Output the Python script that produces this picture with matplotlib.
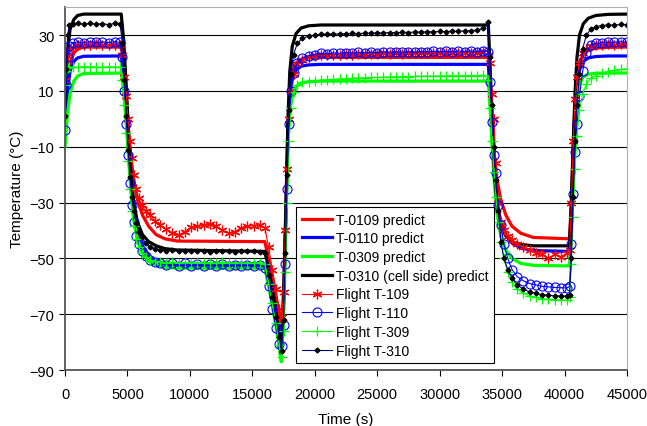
import matplotlib
matplotlib.use("Agg")
import matplotlib.pyplot as plt

plt.rcParams['font.family'] = ['Liberation Sans', 'DejaVu Sans']

# predicted curves (shared time base)
t_pred = [0, 200, 400, 700, 1000, 1500, 4500, 4700, 4900, 5100, 5300, 5500, 5800, 6200, 6700, 7300, 8000, 9000,
          16000, 16400, 16800, 17100, 17300, 17500, 17700, 17850, 18000, 18200, 18500, 18900, 19500, 20500,
          33900, 34050, 34200, 34400, 34600, 34900, 35300, 35800, 36500, 37500,
          40400, 40550, 40700, 40850, 41000, 41200, 41500, 41900, 42500, 43500, 45000]
p0109 = [2, 14, 20, 23.5, 25, 25.7, 25.7, 20, 8, -5, -15, -22, -29, -34.5, -38.5, -41.5, -43, -43.8,
         -44, -52, -62, -70, -76, -62, -30, -5, 10, 17, 20, 21.3, 21.8, 22,
         22, 12, -2, -14, -22, -29, -34.5, -38.5, -41, -42.5,
         -43, -30, -10, 5, 14, 20, 23, 24.5, 25.3, 25.6, 25.7]
p0110 = [-4, 10, 17, 20.5, 21.8, 22.4, 22.5, 16, 3, -10, -23, -32, -40, -45.5, -49, -51, -52, -52.5,
         -52.5, -60, -69, -77, -83, -68, -33, -5, 8, 14, 17.5, 18.8, 19.3, 19.5,
         19.5, 8, -6, -20, -30, -37, -41.5, -44.5, -46.3, -47.2,
         -47.5, -33, -12, 4, 12, 17.5, 20.5, 21.8, 22.3, 22.5, 22.5]
p0309 = [-10, 2, 9, 13.5, 15.3, 16.2, 16.4, 10, -2, -15, -27, -36, -43, -48, -51, -52.5, -53.2, -53.5,
         -53.5, -62, -72, -80, -87, -72, -36, -8, 3, 8.5, 11.5, 12.8, 13.3, 13.5,
         13.5, 3, -10, -24, -34, -42, -47, -50, -51.8, -52.5,
         -52.7, -38, -16, 0, 8, 12.5, 15, 16, 16.3, 16.4, 16.4]
p0310 = [5, 24, 32, 35.5, 37, 37.5, 37.5, 28, 12, -6, -20, -30, -37, -41.5, -44, -45.5, -46.5, -47,
         -47.5, -56, -66, -76, -84, -66, -30, 0, 17, 26, 30.5, 32.5, 33.3, 33.6,
         33.6, 18, 0, -20, -31, -38, -42, -44, -45, -45.5,
         -45.5, -30, -8, 10, 22, 30, 34, 36, 37, 37.4, 37.5]

# flight measurements (shared time base)
t_flight = [0, 100, 200, 350, 600, 1000, 1500, 2000, 2500, 3000, 3500, 4000, 4400,
            4600, 4750, 4900, 5050, 5200, 5350, 5500, 5700, 5900, 6150, 6450, 6800, 7200,
            7600, 8100, 8600, 9100, 9600, 10100, 10600, 11100, 11600, 12100, 12600, 13100, 13600, 14100, 14600, 15100, 15600,
            16000, 16300, 16600, 16900, 17150, 17350, 17500, 17650, 17800, 17950, 18100, 18300, 18600, 19000,
            19500, 20000, 20500, 21000, 21500, 22000, 22500, 23000, 23500, 24000, 24500, 25000, 25500, 26000, 26500,
            27000, 27500, 28000, 28500, 29000, 29500, 30000, 30500, 31000, 31500, 32000, 32500, 33000, 33500,
            33900, 34050, 34200, 34350, 34500, 34700, 34900, 35150, 35450, 35800, 36200,
            36700, 37200, 37700, 38200, 38700, 39200, 39700, 40200,
            40400, 40550, 40700, 40850, 41000, 41200, 41450, 41750, 42100,
            42500, 43000, 43500, 44000, 44500, 45000]
f109 = [14, 19, 22.5, 24.5, 25.8, 26.3, 26.5, 26.4, 26.7, 26.5, 26.6, 26.4, 26.6,
        23, 15, 8, 0, -8, -14, -20, -25, -28.5, -31, -33, -34.5, -36.5,
        -38, -39.5, -41, -41.5, -40.5, -38.8, -38.5, -38.2, -37.8, -38.5, -40, -41, -40.5, -39, -38.5, -38.3, -38,
        -39, -46, -54, -61, -68, -71, -62, -40, -18, 0, 10, 16, 19.5, 21.2,
        22, 22.4, 22.7, 22.8, 23, 22.9, 23.1, 23, 23.2, 23.1, 23.3, 23.2, 23.4, 23.3, 23.4,
        23.3, 23.5, 23.4, 23.5, 23.4, 23.6, 23.5, 23.6, 23.5, 23.7, 23.6, 23.7, 23.6, 23.8,
        23, 20, 9, 0, -16, -30, -37, -40, -42, -43.5, -45,
        -46, -47, -48, -48.5, -50, -48.5, -49.5, -48,
        -47, -30, -8, 7, 15, 20, 23.5, 25, 26,
        26.3, 26.5, 26.7, 26.6, 26.8, 26.7]
f110 = [-4, 12, 22, 26, 27.2, 27.5, 27.3, 27.6, 27.4, 27.5, 27.3, 27.6, 27.4,
        22, 10, -2, -13, -23, -31, -37, -42, -45, -47.5, -49.3, -50.5, -51.2,
        -51.8, -52.3, -51.5, -52.6, -51.8, -52.8, -52, -52.7, -51.9, -52.8, -52.1, -52.9, -52.2, -52.8, -52.3, -52.9, -52.3,
        -53.5, -60, -68, -75, -80.5, -81.5, -74, -52, -25, -2, 10, 16.5, 20, 21.8,
        22.6, 23, 23.4, 23.2, 23.6, 23.4, 23.7, 23.5, 23.8, 23.6, 23.9, 23.7, 24, 23.8, 24,
        23.8, 24.1, 23.9, 24.1, 23.9, 24.2, 24, 24.2, 24, 24.3, 24.1, 24.3, 24.1, 24.4,
        24, 13, -1, -13, -19.5, -31, -38, -45, -50, -54, -56.5,
        -58, -59, -59.5, -60, -60.2, -60.4, -60.5, -60.6,
        -60, -45, -27, -12, -2, 8, 17, 23.5, 26.5,
        27, 27.3, 27.5, 27.4, 27.6, 27.5]
f309 = [12, 17, 18.3, 18.5, 18.6, 18.4, 18.7, 18.5, 18.6, 18.4, 18.7, 18.5, 18.6,
        14, 5, -5, -15, -25, -33, -38.5, -43, -46, -48, -49.5, -50.5, -51,
        -51.3, -51.6, -51.2, -51.7, -51.4, -51.8, -51.4, -51.7, -51.5, -51.8, -51.4, -51.7, -51.5, -51.8, -51.5, -51.7, -51.6,
        -52, -59, -66, -73, -81, -85.5, -76, -55, -30, -8, 4, 9.5, 12, 13,
        13.3, 13.6, 13.8, 14, 14.1, 14.3, 14.4, 14.5, 14.6, 14.7, 14.8, 14.8, 14.9, 15, 15,
        15.1, 15.1, 15.2, 15.2, 15.3, 15.3, 15.3, 15.4, 15.4, 15.4, 15.5, 15.5, 15.5, 15.6,
        14, 4, -8, -19, -28, -37, -44, -50, -55, -58.5, -61,
        -62.5, -63.5, -64, -64.4, -64.6, -64.8, -64.9, -65,
        -64, -52, -35, -18, -6, 3, 9, 12.5, 14.5,
        15.5, 16.3, 16.9, 17.3, 17.7, 17.9]
f310 = [1, 18, 30, 33.5, 34, 34.3, 33.8, 34.2, 33.9, 34.1, 33.7, 34.2, 34,
        27, 14, 1, -11, -21, -28, -33, -37.5, -40.5, -42.5, -44.5, -45.8, -46.5,
        -47, -47.3, -47.1, -47.4, -47.2, -47.5, -47.3, -47.4, -47.6, -47.4, -47.5, -47.3, -47.6, -47.4, -47.5, -47.4, -47.6,
        -48, -56, -64, -71, -78, -83, -72, -48, -20, 3, 16, 23, 27, 28.8,
        29.6, 30, 30.2, 30.4, 30.3, 30.5, 30.4, 30.6, 30.5, 30.7, 30.6, 30.8, 30.7, 30.9, 30.8,
        31, 30.9, 31.1, 31, 31.2, 31.1, 31.3, 31.2, 31.4, 31.3, 31.5, 31.6, 31.7, 32.5,
        34.5, 22, 5, -10, -22, -33, -44, -50, -54, -57, -59.5,
        -61, -62, -62.5, -63, -63.2, -63.4, -63.5, -63.6,
        -63, -50, -28, -8, 5, 16, 25, 30, 32,
        33, 33.4, 33.6, 33.5, 33.8, 33.7]

fig = plt.figure(figsize=(6.47, 4.27), dpi=100)
ax = fig.add_axes([0.1005, 0.131, 0.8685, 0.85])

ax.plot(t_pred, p0109, color='#FF0000', lw=2.3, label='T-0109 predict')
ax.plot(t_pred, p0110, color='#0000FF', lw=2.3, label='T-0110 predict')
ax.plot(t_pred, p0309, color='#00FF00', lw=2.3, label='T-0309 predict')
ax.plot(t_pred, p0310, color='black', lw=2.3, label='T-0310 (cell side) predict')

ax.plot(t_flight, f109, color='#FF0000', lw=0.8, marker=(6, 2, 0), ms=7, mew=0.9, label='Flight T-109')
ax.plot(t_flight, f110, color='#0000FF', lw=0.8, marker='o', ms=6.5, mfc='none', mew=0.8, label='Flight T-110')
ax.plot(t_flight, f309, color='#00FF00', lw=0.8, marker='+', ms=7, mew=0.9, label='Flight T-309')
ax.plot(t_flight, f310, color='#000080', lw=0.8, marker='D', ms=2.5, mfc='black', mec='black', label='Flight T-310')

ax.set_xlim(0, 45000)
ax.set_ylim(-90, 40)
ax.set_xticks(range(0, 45001, 5000))
ax.set_yticks(range(-90, 31, 20))
ax.yaxis.grid(True, color='black', lw=0.8)
ax.set_axisbelow(True)
ax.spines['top'].set_color('#b0b0b0')
ax.spines['right'].set_color('#b0b0b0')
ax.spines['left'].set_color('#555555')
ax.spines['bottom'].set_color('#555555')
ax.spines['left'].set_linewidth(1.3)
ax.spines['bottom'].set_linewidth(1.3)
ax.tick_params(labelsize=10.5, direction='out', length=4)
ax.tick_params(axis='x', pad=8)

ax.set_xlabel('Time (s)', fontsize=11, labelpad=8)
ax.set_ylabel('Temperature (°C)', fontsize=11, labelpad=4)

leg = ax.legend(loc='lower left', bbox_to_anchor=(0.411, 0.019), borderaxespad=0, fontsize=10,
                fancybox=False, edgecolor='black', framealpha=1, handlelength=2.2,
                handletextpad=0.3, labelspacing=0.34, borderpad=0.4)
leg.get_frame().set_linewidth(0.8)

fig.savefig('out.png', dpi=100)
